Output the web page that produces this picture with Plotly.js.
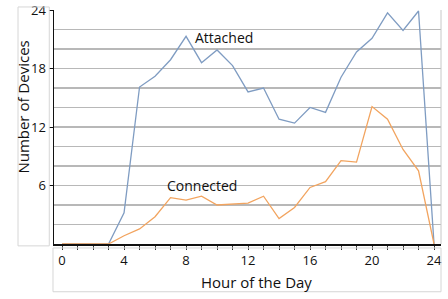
<!DOCTYPE html>
<html>
<head>
<meta charset="utf-8">
<script src="https://cdn.plot.ly/plotly-3.0.1.min.js"></script>
<style>html,body{margin:0;padding:0;background:#fff}#chart{width:448px;height:299px}</style>
</head>
<body>
<div id="chart"></div>
<script>
const hours = [0,1,2,3,4,5,6,7,8,9,10,11,12,13,14,15,16,17,18,19,20,21,22,23,24];
const attached = [0,0,0,0,3.2,16.1,17.2,18.9,21.3,18.6,19.9,18.3,15.6,16.0,12.8,12.4,14.0,13.5,17.1,19.7,21.1,23.7,21.9,23.9,0];
const connected = [0,0,0,0,0.85,1.55,2.8,4.75,4.5,4.9,4.0,4.1,4.2,4.9,2.6,3.75,5.8,6.4,8.55,8.4,14.1,12.8,9.7,7.5,0];
const seriesNames = ["Attached","Connected"];
const xTicks = [0,4,8,12,16,20,24];
const yTicks = [6,12,18,24];
const xTitle = "Hour of the Day";
const yTitle = "Number of Devices";

const FONT = '"Open Sans", "Noto Sans", sans-serif';

const traces = [
  {x: hours, y: attached, name: seriesNames[0], mode: 'lines', line: {color: '#7f9cc2', width: 1.3}, hoverinfo: 'skip'},
  {x: hours, y: connected, name: seriesNames[1], mode: 'lines', line: {color: '#f2a45f', width: 1.3}, hoverinfo: 'skip'}
];

const layout = {
  width: 448, height: 299,
  margin: {l: 54, r: 7, t: 10, b: 55},
  paper_bgcolor: '#fff', plot_bgcolor: '#fff',
  showlegend: false,
  font: {family: FONT, size: 13, color: '#111'},
  xaxis: {
    range: [-0.52, 24.45],
    tickmode: 'array', tickvals: xTicks, ticktext: xTicks.map(String),
    ticks: 'outside', ticklen: 4, tickcolor: '#333', tickwidth: 1,
    minor: {dtick: 1, ticks: 'outside', ticklen: 4, tickcolor: '#333', showgrid: false},
    showgrid: false, zeroline: false,
    showline: true, linecolor: '#111', linewidth: 1.5,
    tickfont: {family: FONT, size: 13, color: '#111'}
  },
  yaxis: {
    range: [0, 24],
    tickmode: 'array', tickvals: yTicks, ticktext: yTicks.map(String),
    ticks: 'outside', ticklen: 4, tickcolor: '#111', tickwidth: 1,
    showgrid: true, gridcolor: '#b8b8b8', gridwidth: 1.5,
    minor: {dtick: 2, showgrid: true, gridcolor: '#b8b8b8', gridwidth: 1.2},
    zeroline: false,
    showline: true, linecolor: '#111', linewidth: 1.5,
    tickfont: {family: FONT, size: 13, color: '#111'}
  },
  shapes: [
    {type: 'line', xref: 'paper', yref: 'paper', x0: 1, x1: 1, y0: 0, y1: 1, line: {color: '#c8c8c8', width: 1}},
    {type: 'rect', xref: 'paper', yref: 'paper', x0: -0.093, x1: -0.0122, y0: -0.008, y1: 1.013, line: {color: '#d6d6d6', width: 1}},
    {type: 'rect', xref: 'paper', yref: 'paper', x0: -0.0026, x1: 1.0, y0: -0.017, y1: -0.204, line: {color: '#d6d6d6', width: 1}}
  ],
  annotations: [
    {x: 8.45, y: 21.2, xref: 'x', yref: 'y', text: seriesNames[0], showarrow: false, xanchor: 'left', yanchor: 'middle', font: {family: FONT, size: 14, color: '#111'}},
    {x: 6.65, y: 6.0, xref: 'x', yref: 'y', text: seriesNames[1], showarrow: false, xanchor: 'left', yanchor: 'middle', font: {family: FONT, size: 14, color: '#111'}},
    {x: 0.522, y: -0.162, xref: 'paper', yref: 'paper', text: xTitle, showarrow: false, xanchor: 'center', yanchor: 'middle', font: {family: FONT, size: 15, color: '#111'}},
    {x: -0.080, y: 0.583, xref: 'paper', yref: 'paper', text: yTitle, textangle: -90, showarrow: false, xanchor: 'center', yanchor: 'middle', font: {family: FONT, size: 15, color: '#111'}}
  ]
};

Plotly.newPlot('chart', traces, layout, {displayModeBar: false, staticPlot: true});
</script>
</body>
</html>
